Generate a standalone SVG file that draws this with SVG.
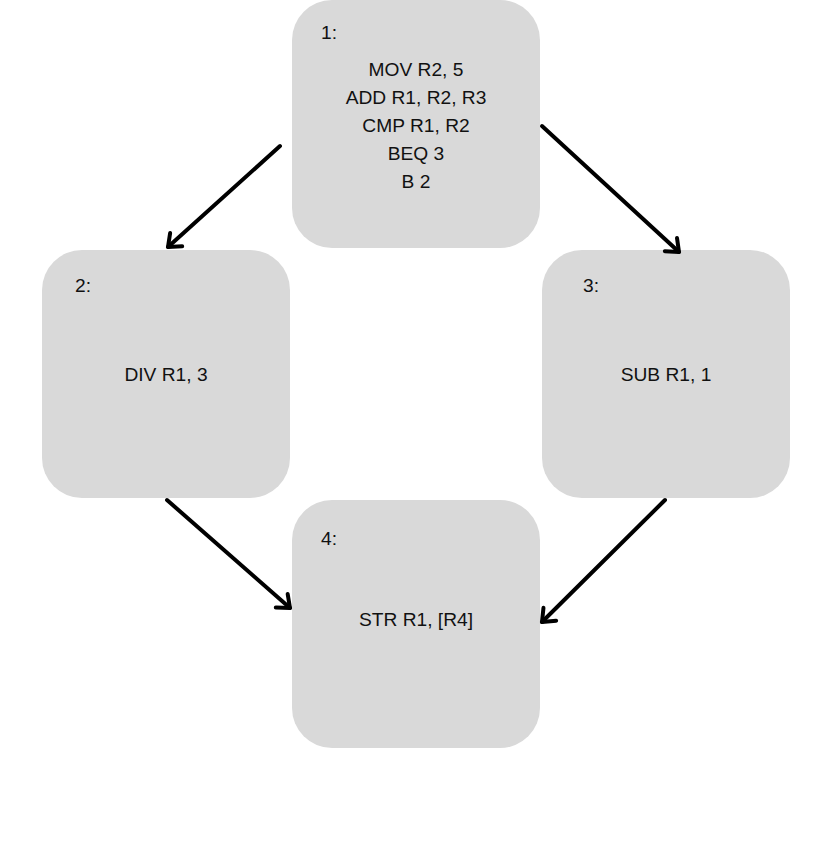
<svg xmlns="http://www.w3.org/2000/svg" width="832" height="846" viewBox="0 0 832 846">
<style>
.box{fill:#d9d9d9}
text{font-family:"Liberation Sans",Arial,sans-serif;font-size:19.2px;fill:#111}
.c{text-anchor:middle}
.edge{stroke:#000;stroke-width:4;stroke-linecap:round;fill:none}
</style>
<defs>
<marker id="ah" markerUnits="userSpaceOnUse" viewBox="-16 -12 20 24" markerWidth="20" markerHeight="24" refX="0" refY="0" orient="auto">
<path d="M-11,-9 L0,0 L-11,9" fill="none" stroke="#000" stroke-width="4" stroke-linecap="round" stroke-linejoin="round"/>
</marker>
</defs>
<rect width="832" height="846" fill="#fff"/>
<g id="node1">
<rect class="box" x="292" y="0" width="248" height="248" rx="40"/>
<text x="321" y="39">1:</text>
<text class="c" x="416" y="76">MOV R2, 5</text>
<text class="c" x="416" y="104">ADD R1, R2, R3</text>
<text class="c" x="416" y="132">CMP R1, R2</text>
<text class="c" x="416" y="160">BEQ 3</text>
<text class="c" x="416" y="188">B 2</text>
</g>
<g id="node2">
<rect class="box" x="42" y="250" width="248" height="248" rx="40"/>
<text x="75" y="292">2:</text>
<text class="c" x="166" y="381">DIV R1, 3</text>
</g>
<g id="node3">
<rect class="box" x="542" y="250" width="248" height="248" rx="40"/>
<text x="583" y="292">3:</text>
<text class="c" x="666" y="381">SUB R1, 1</text>
</g>
<g id="node4">
<rect class="box" x="292" y="500" width="248" height="248" rx="40"/>
<text x="321" y="545">4:</text>
<text class="c" x="416" y="626">STR R1, [R4]</text>
</g>
<g id="connectors">
<line class="edge" x1="280" y1="146" x2="168" y2="247" marker-end="url(#ah)"/>
<line class="edge" x1="542" y1="126" x2="679" y2="252" marker-end="url(#ah)"/>
<line class="edge" x1="167" y1="500" x2="290" y2="608" marker-end="url(#ah)"/>
<line class="edge" x1="665" y1="500" x2="542" y2="622" marker-end="url(#ah)"/>
</g>
</svg>
